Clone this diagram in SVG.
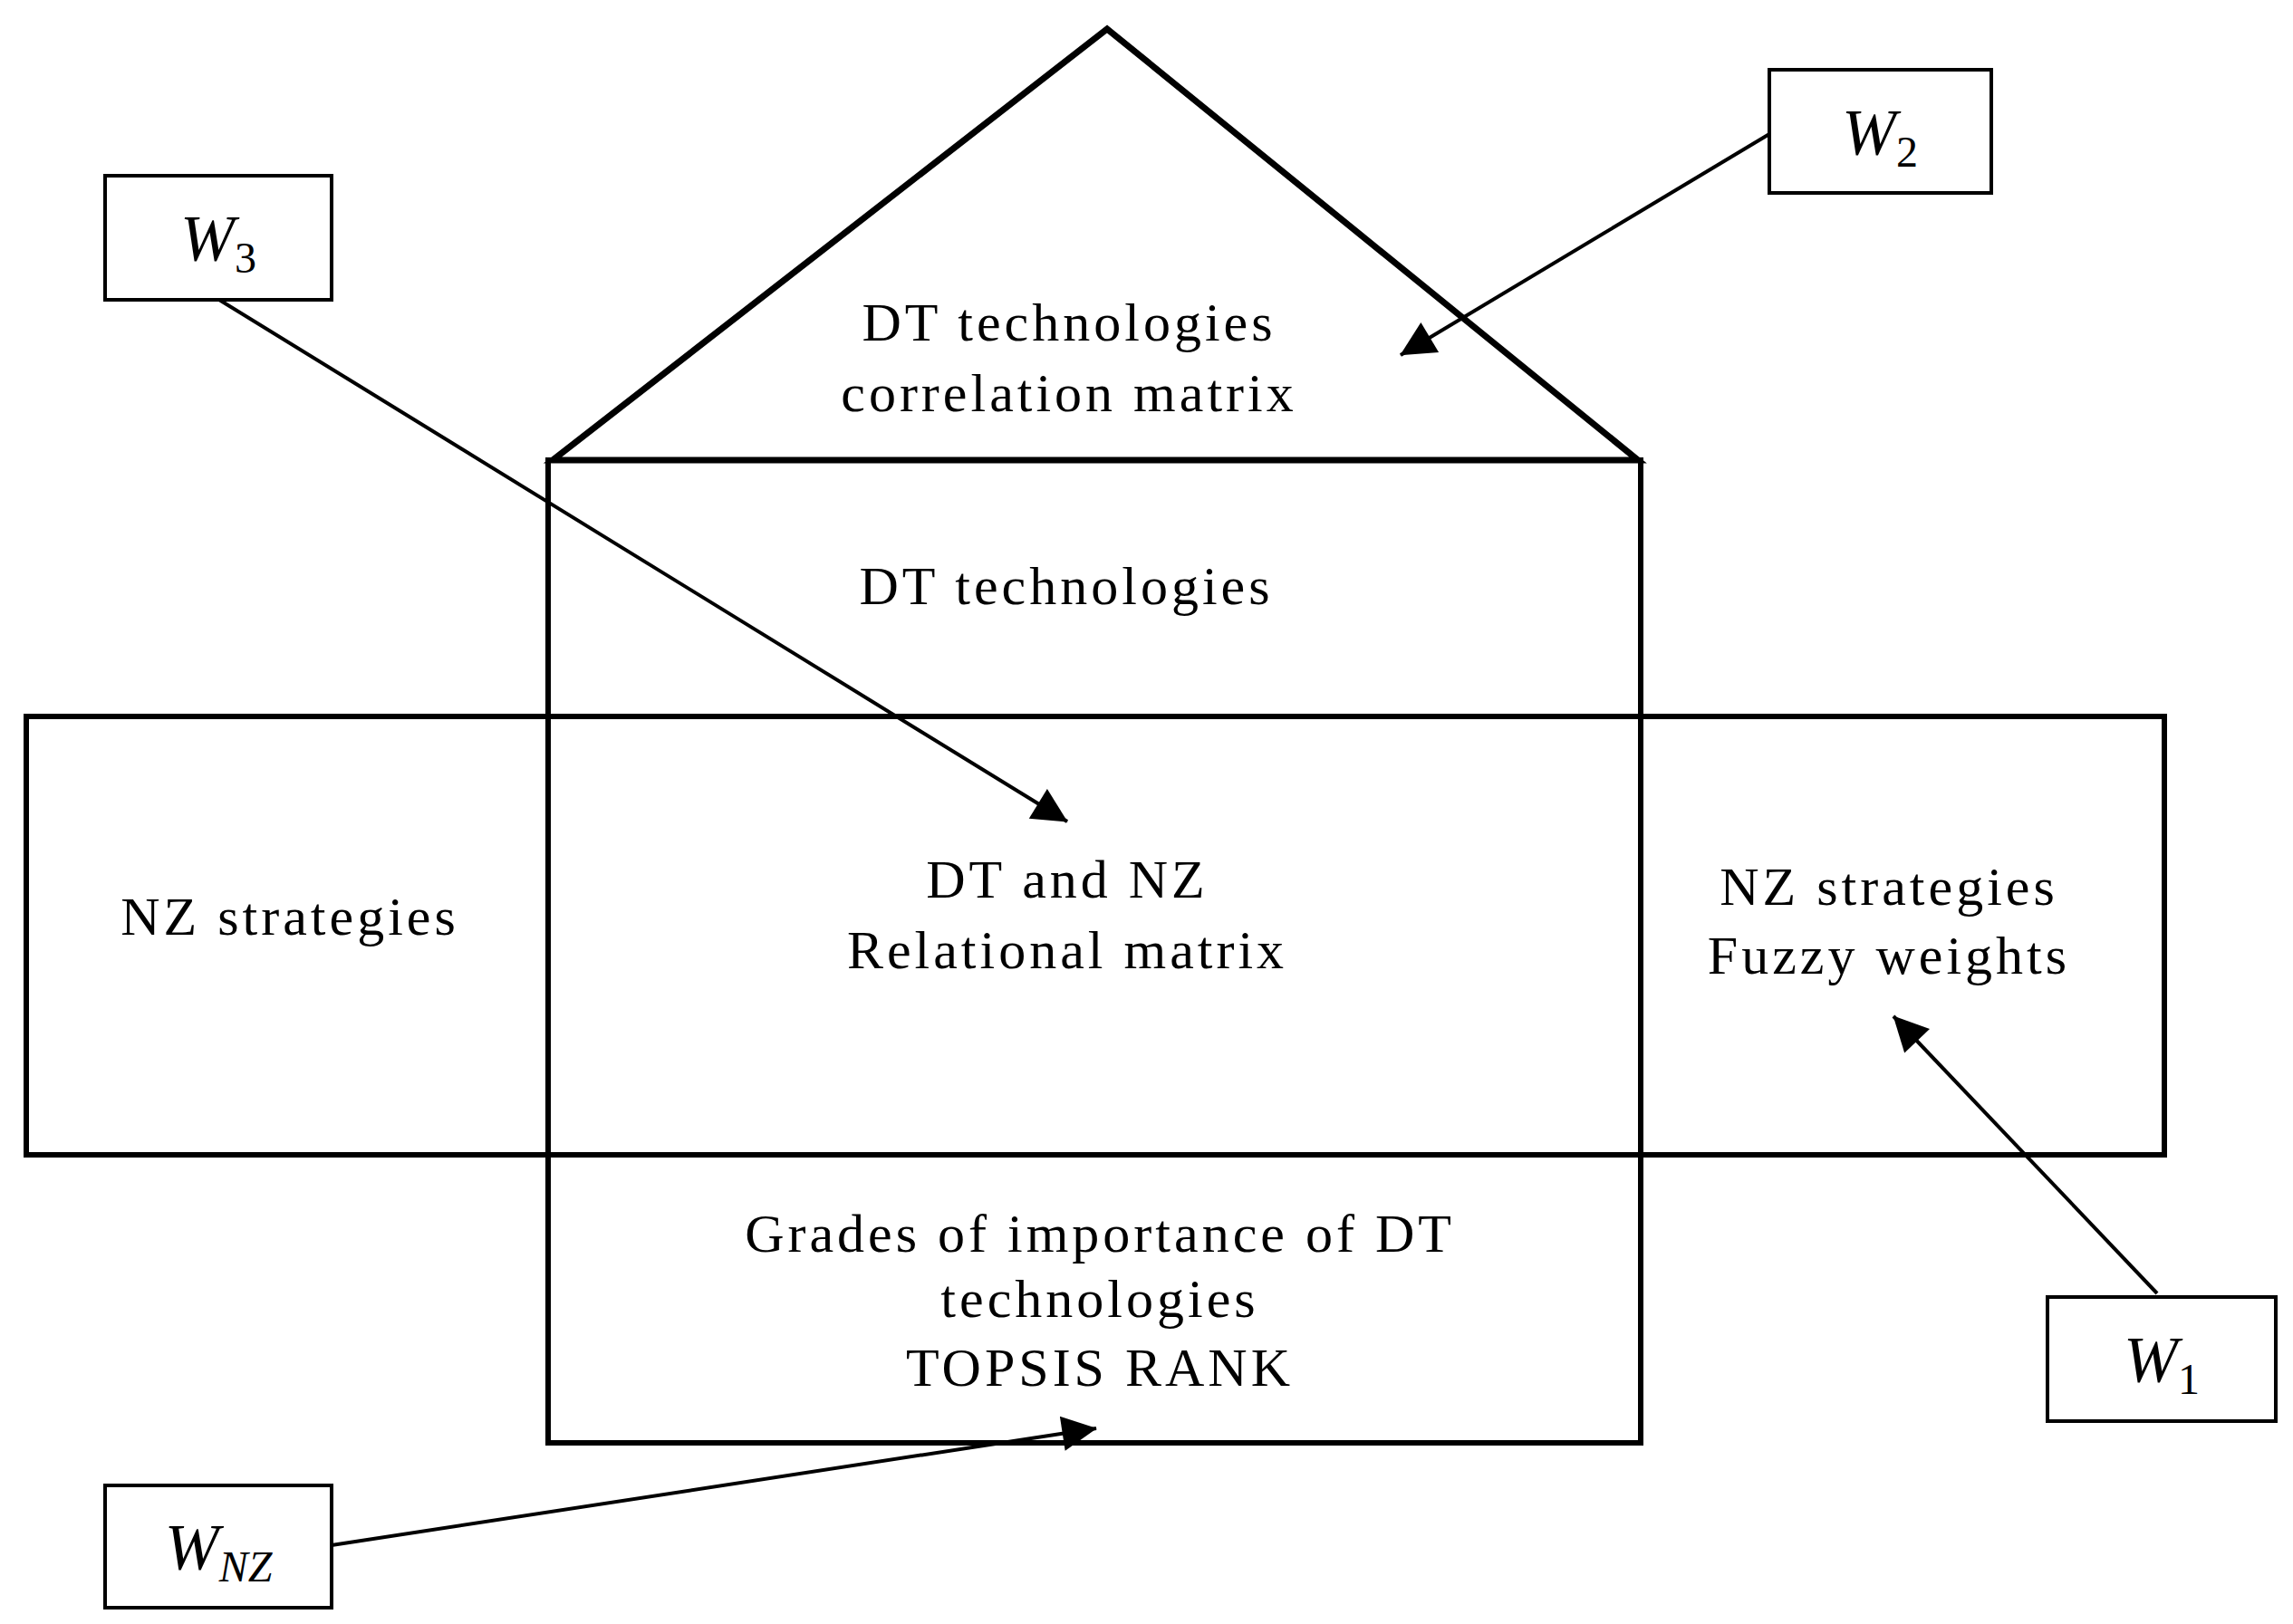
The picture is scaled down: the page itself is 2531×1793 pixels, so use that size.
<svg xmlns="http://www.w3.org/2000/svg" width="2531" height="1793" viewBox="0 0 2531 1793">
<style>
.s{fill:none;stroke:#000;stroke-width:6}
.t{font-family:"Liberation Serif",serif;font-size:60px;letter-spacing:4px;text-anchor:middle;fill:#000}
.w{font-family:"Liberation Serif",serif;font-size:72px;font-style:italic;text-anchor:middle;fill:#000}
.c{stroke:#000;stroke-width:4;marker-end:url(#a)}
</style>
<defs><marker id="a" viewBox="0 0 10 10" refX="9" refY="5" markerWidth="12" markerHeight="12" markerUnits="userSpaceOnUse" orient="auto" overflow="visible"><path d="M0,0 L10,5 L0,10 z" transform="scale(3.2) translate(-7,-3.4)" fill="#000"/></marker></defs>
<rect width="2531" height="1793" fill="#fff"/>
<g id="roof"><path class="s" style="stroke-width:7" d="M610,508 L1222,32 L1808,508 Z"/>
<text class="t" x="1180" y="376">DT technologies</text><text class="t" x="1180" y="454">correlation matrix</text></g>
<g id="column"><rect class="s" x="605" y="508" width="1206" height="1085"/>
<text class="t" x="1177" y="667">DT technologies</text></g>
<g id="band"><rect class="s" x="29" y="791" width="2360" height="484"/>
<text class="t" x="1178" y="991">DT and NZ</text><text class="t" x="1178" y="1069">Relational matrix</text>
<text class="t" x="320" y="1032">NZ strategies</text>
<text class="t" x="2085" y="999">NZ strategies</text><text class="t" x="2085" y="1075">Fuzzy weights</text></g>
<g id="bottom"><text class="t" x="1214" y="1382">Grades of importance of DT</text><text class="t" x="1214" y="1454">technologies</text><text class="t" x="1214" y="1530">TOPSIS RANK</text></g>
<g id="W2"><rect class="s" style="stroke-width:4" x="1953" y="77" width="245" height="136"/><text class="w" x="2075" y="170">W<tspan font-style="normal" font-size="48" dy="14">2</tspan></text></g>
<g id="W3"><rect class="s" style="stroke-width:4" x="116" y="194" width="250" height="137"/><text class="w" x="241" y="287">W<tspan font-style="normal" font-size="48" dy="14">3</tspan></text></g>
<g id="W1"><rect class="s" style="stroke-width:4" x="2260" y="1432" width="252" height="137"/><text class="w" x="2386" y="1525">W<tspan font-style="normal" font-size="48" dy="14">1</tspan></text></g>
<g id="WNZ"><rect class="s" style="stroke-width:4" x="116" y="1640" width="250" height="135"/><text class="w" x="241" y="1732">W<tspan font-size="48" dy="14">NZ</tspan></text></g>
<g id="connectors">
<line class="c" x1="1953" y1="148" x2="1546" y2="392"/>
<line class="c" x1="242" y1="331" x2="1178" y2="907"/>
<line class="c" x1="2381" y1="1428" x2="2090" y2="1122"/>
<line class="c" x1="366" y1="1706" x2="1210" y2="1577"/>
</g>
</svg>
